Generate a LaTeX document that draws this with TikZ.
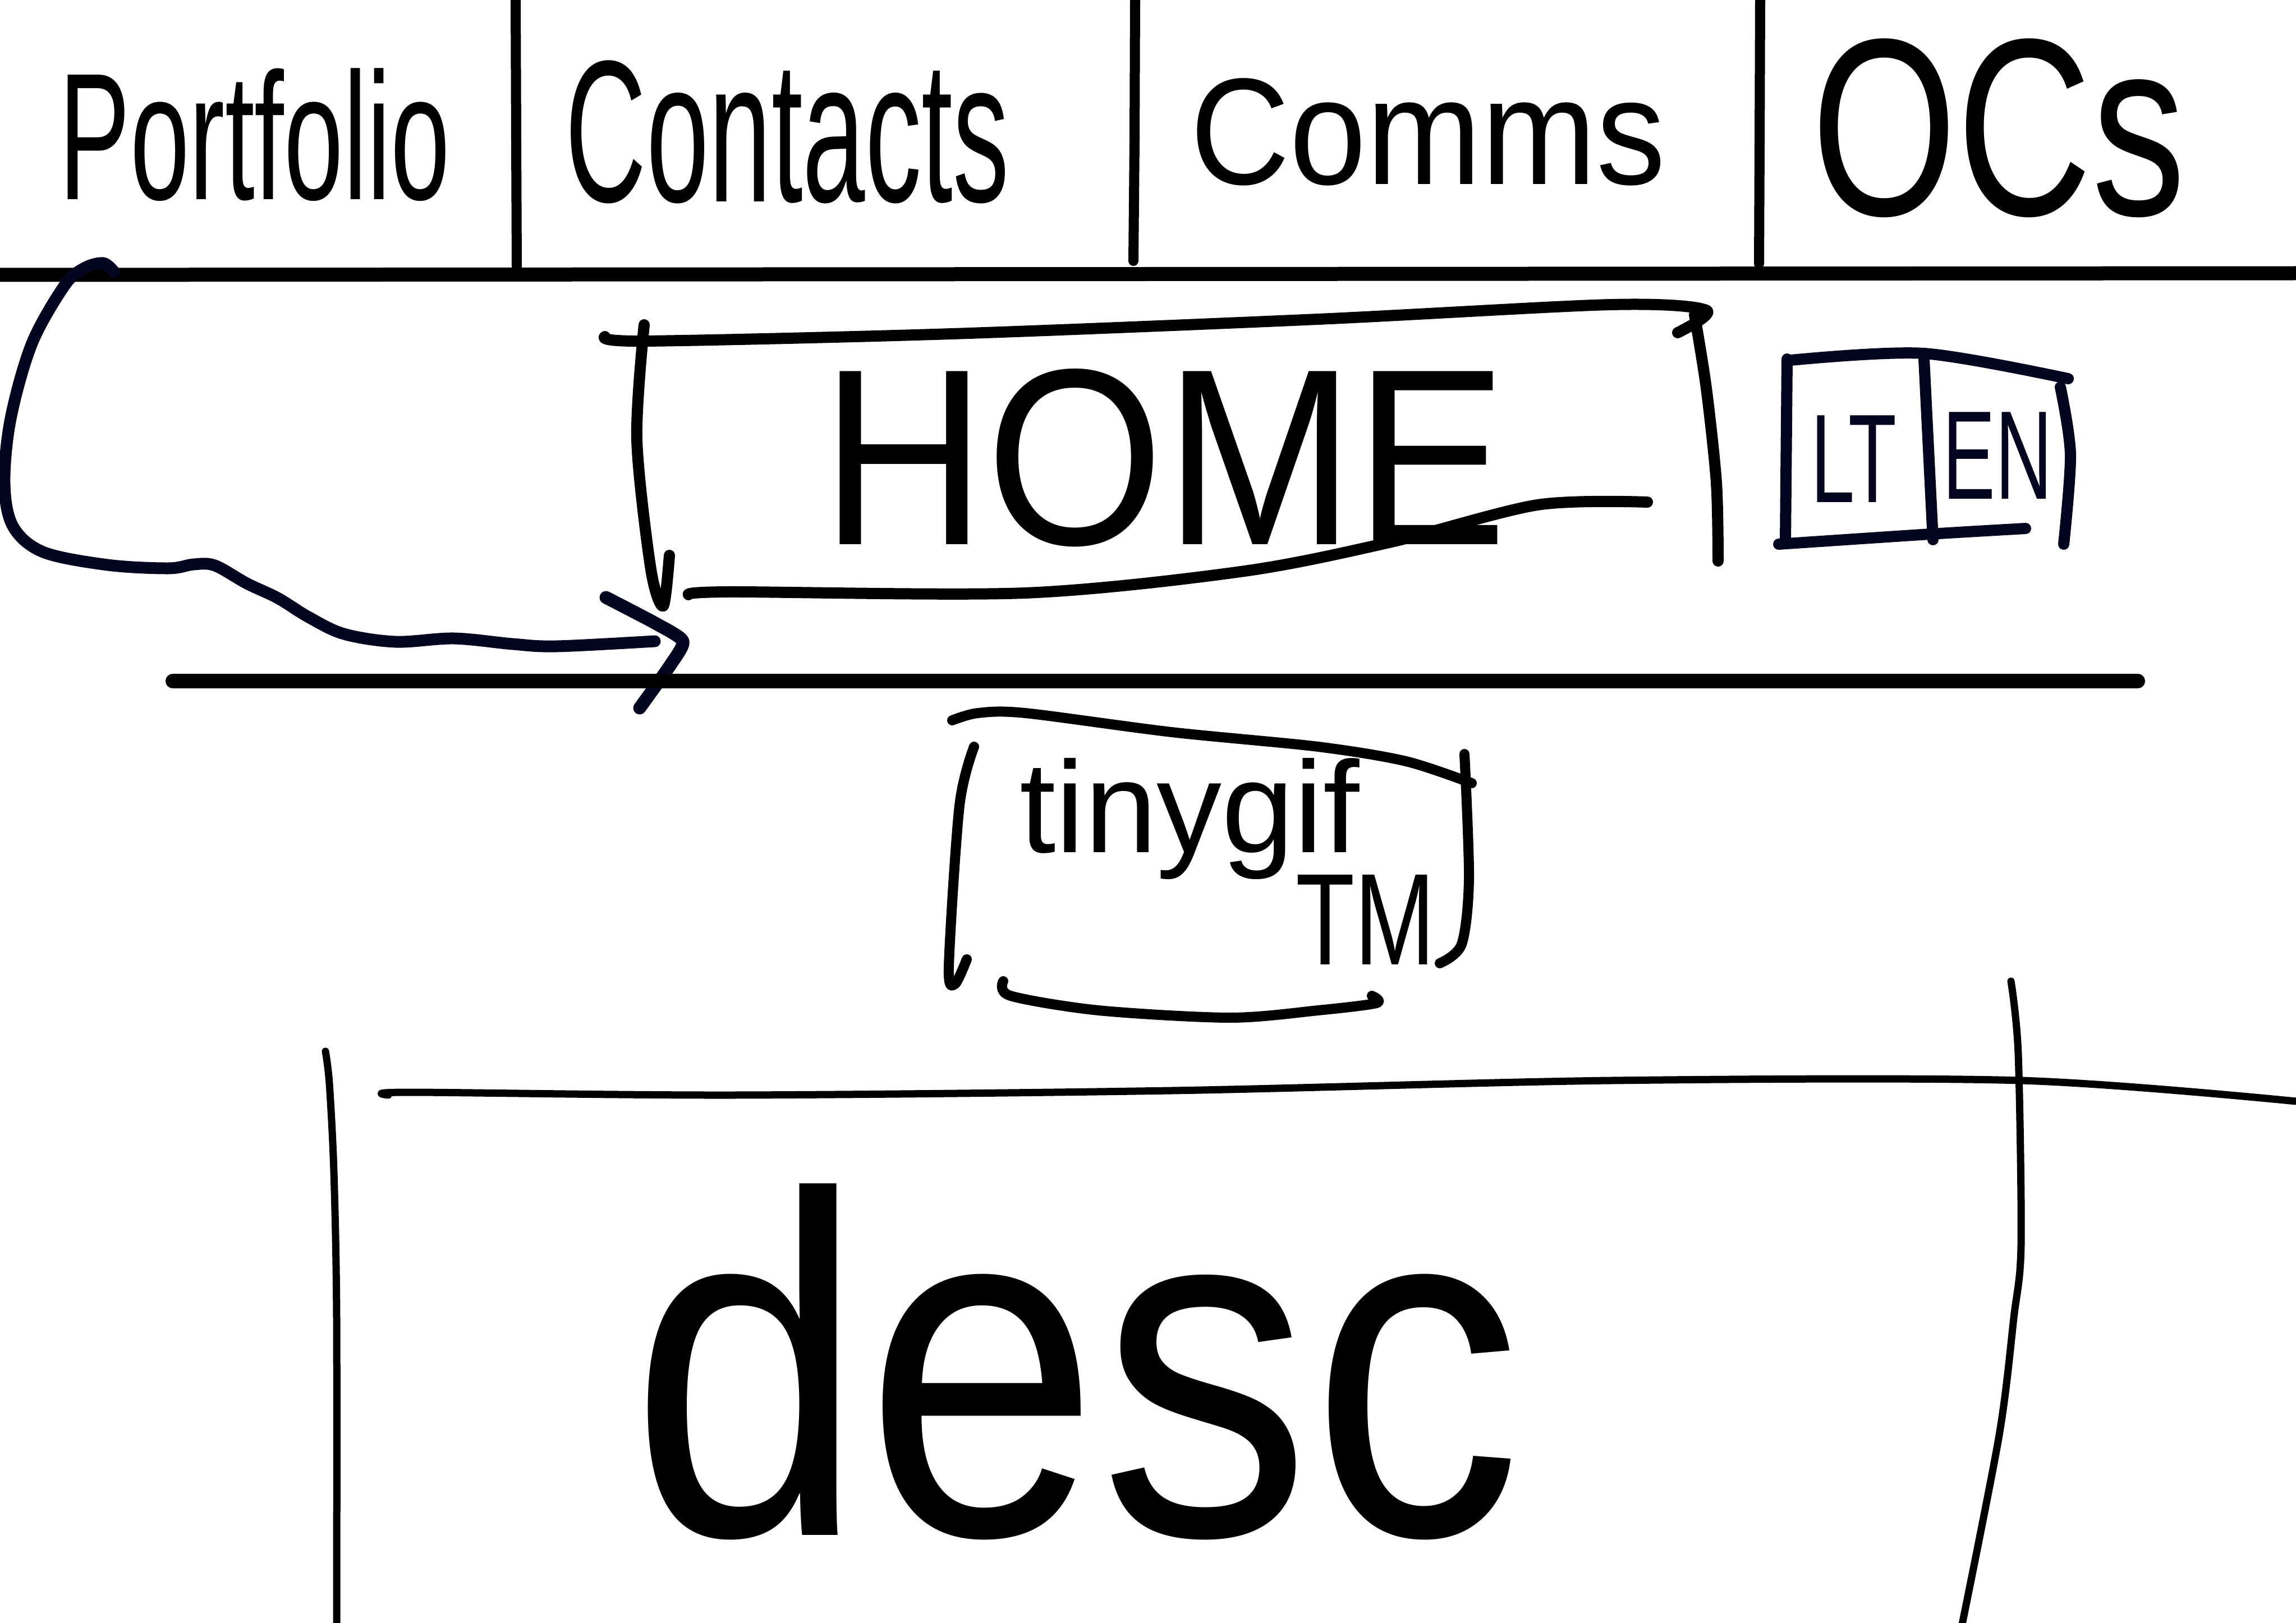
\documentclass[tikz,border=0pt]{standalone}
\usepackage{fontspec}
\usepackage{graphicx}
\setmainfont{Liberation Sans}
\definecolor{navy}{RGB}{3,5,33}
\newcommand\handfs[1]{\fontsize{#1}{#1}\selectfont}
\tikzset{
  pen/.style={draw=black, line width=#1, line cap=round, line join=round},
  navypen/.style={draw=navy, line width=#1, line cap=round, line join=round},
  hand/.style={inner sep=0pt, text=black},
}
\begin{document}
\begin{tikzpicture}[x=1cm,y=-1cm]
\useasboundingbox[fill=white] (0,0) rectangle (40.92,28.93);

% ---------- navbar ----------
\draw[pen=2.5mm] (0,4.90) -- (40.92,4.87);
\draw[pen=1.8mm] (9.19,0) -- (9.20,2.5) -- (9.21,4.75);
\draw[pen=1.8mm] (20.23,0) -- (20.22,2.5) -- (20.20,4.65);
\draw[pen=1.8mm] (31.37,0) -- (31.36,2.5) -- (31.35,4.70);

\node[hand] (portfolio) at (4.54,2.40) {\handfs{54}\scalebox{1}[1.7]{Portfolio}};
\node[hand] (contacts)  at (14.03,2.35) {\handfs{57}\scalebox{1}[1.8]{Contacts}};
\node[hand] (comms)     at (25.45,2.35) {\handfs{70}\scalebox{1}[1.1]{Comms}};
\node[hand] (ocs)       at (35.62,2.28) {\handfs{95}\scalebox{1}[1.35]{OCs}};

% ---------- curved arrow ----------
\coordinate (arrS) at (2.03,4.84);
\coordinate (arrE) at (11.67,11.43);
\coordinate (arrT) at (12.17,11.43);
\coordinate (barbA) at (10.80,10.65);
\coordinate (barbB) at (11.40,12.62);
\draw[navypen=2.1mm] plot[smooth, tension=0.55] coordinates {(arrS) (1.84,4.69) (1.50,4.78) (1.15,5.09) (0.57,6.12) (0.19,7.46) (0.08,8.61) (0.23,9.38) (0.77,9.84) (1.92,10.07) (3.00,10.13) (3.45,10.06) (3.83,10.08) (4.40,10.40) (4.95,10.66) (5.50,11.00) (6.13,11.30) (7.05,11.44) (8.09,11.38) (9.14,11.48) (9.92,11.52) (arrE)};
\draw[navypen=2.3mm] plot[smooth, tension=0.4] coordinates {(barbA) (11.70,11.12) (arrT) (11.95,11.85) (barbB)};

% ---------- separator ----------
\coordinate (sepL) at (3.08,12.14);
\coordinate (sepR) at (38.10,12.14);
\draw[pen=2.6mm] (sepL) -- (sepR);

% ---------- HOME box ----------
\draw[pen=2mm] plot[smooth, tension=0.5] coordinates {(10.78,6.00) (11.48,6.08) (16.97,5.95) (23.49,5.69) (28.71,5.43) (30.41,5.53) (29.90,5.93)};
\draw[pen=2mm] plot[smooth, tension=0.5] coordinates {(11.48,5.79) (11.35,7.83) (11.60,10.15) (11.82,10.80) (11.93,9.90)};
\draw[pen=2mm] plot[smooth, tension=0.5] coordinates {(12.27,10.60) (13.0,10.55) (18.27,10.57) (22.18,10.18) (24.80,9.66) (27.40,9.00) (29.36,8.95)};
\draw[pen=2mm] plot[smooth, tension=0.5] coordinates {(30.20,5.61) (30.41,6.92) (30.59,8.61) (30.62,10.00)};
\node[hand] (home) at (20.75,8.16) {\handfs{116}\scalebox{1}[1.1]{HOME}};

% ---------- LT | EN box ----------
\draw[navypen=2mm] (31.85,6.40) -- (31.82,9.65);
\draw[navypen=2mm] plot[smooth, tension=0.5] coordinates {(31.92,6.42) (34.29,6.30) (36.86,6.75)};
\draw[navypen=2mm] plot[smooth, tension=0.5] coordinates {(36.72,6.90) (36.90,8.10) (36.78,9.70)};
\draw[navypen=2mm] plot[smooth, tension=0.5] coordinates {(31.70,9.70) (34.40,9.52) (36.10,9.42)};
\draw[navypen=2mm] (34.29,6.40) -- (34.45,9.62);
\node[hand, text=navy] (lt) at (33.04,8.18) {\handfs{40}\scalebox{1}[1.6]{LT}};
\node[hand, text=navy] (en) at (35.60,8.12) {\handfs{40}\scalebox{1}[1.6]{EN}};

% ---------- image box ----------
\draw[pen=1.8mm] plot[smooth, tension=0.5] coordinates {(16.97,12.84) (17.43,12.71) (18.27,12.71) (20.88,13.05) (23.49,13.31) (25.06,13.57) (26.23,13.96)};
\draw[pen=1.8mm] plot[smooth, tension=0.5] coordinates {(17.36,13.31) (17.10,14.36) (16.91,17.23) (17.02,17.54) (17.23,17.10)};
\draw[pen=1.8mm] plot[smooth, tension=0.5] coordinates {(26.10,13.44) (26.18,15.66) (26.05,16.83) (25.66,17.17)};
\draw[pen=1.8mm] plot[smooth, tension=0.5] coordinates {(17.88,17.49) (18.01,17.75) (19.58,18.01) (21.92,18.14) (23.49,18.01) (24.53,17.88) (24.45,17.75)};
\node[hand] (gif) at (21.20,14.60) {\handfs{66}tinygif};
\node[hand] (tm) at (24.34,16.40) {\handfs{49}\scalebox{1}[1.35]{TM}};

% ---------- desc box ----------
\draw[pen=1.3mm] plot[smooth, tension=0.5] coordinates {(5.80,18.74) (5.87,19.31) (5.95,20.88) (6.00,23.49) (6.00,29.10)};
\draw[pen=1.3mm] plot[smooth, tension=0.5] coordinates {(6.92,19.52) (7.31,19.47) (13.05,19.52) (20.88,19.44) (28.71,19.26) (36.02,19.26) (40.92,19.63)};
\draw[pen=1.3mm] plot[smooth, tension=0.5] coordinates {(35.84,17.49) (35.97,18.79) (36.02,22.19) (35.89,23.49) (35.63,25.58) (34.94,29.10)};
\node[hand] (desc) at (19.18,24.27) {\handfs{214}\scalebox{1}[1.15]{desc}};
\end{tikzpicture}
\end{document}
